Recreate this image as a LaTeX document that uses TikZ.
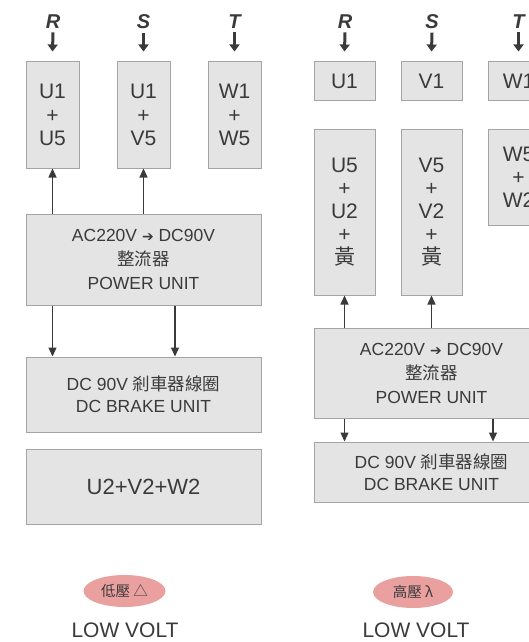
\documentclass[tikz,border=0pt]{standalone}
\usepackage{fontspec}
\setmainfont{Liberation Sans}
\newfontfamily\cjk{Noto Sans CJK TC}
\newfontfamily\symfont{DejaVu Sans}
\usetikzlibrary{arrows.meta,shapes.geometric}
\definecolor{boxfill}{HTML}{E4E4E4}
\definecolor{boxline}{HTML}{A4A4A4}
\definecolor{ink}{HTML}{3A3A3A}
\definecolor{pinkfill}{HTML}{EBA0A0}
\begin{document}
\begin{tikzpicture}[x=1pt, y=-1pt,
  box/.style={draw=boxline, fill=boxfill, line width=1pt, text=ink, align=center, inner sep=0pt},
  term/.style={box, minimum width=53pt, font=\fontsize{21}{23.5}\selectfont},
  unit/.style={box, minimum width=235pt, font=\fontsize{17.5}{24}\selectfont},
  phase/.style={text=ink, font=\fontsize{20}{20}\selectfont\bfseries\itshape},
  feed/.style={line width=3pt, ink, -{Triangle[length=7pt,width=10pt]}},
  wire/.style={line width=1.2pt, ink, -{Triangle[length=9pt,width=8pt]}},
  volt/.style={ellipse, fill=pinkfill, minimum width=82pt, minimum height=32pt, inner sep=0pt, text=ink, font=\cjk\fontsize{14.5}{14.5}\selectfont},
  mode/.style={text=ink, font=\fontsize{21}{21}\selectfont}]
\clip (0,0) rectangle (529,642);

% low voltage (delta)
\node[phase] (rL) at (53,22) {R};
\node[phase] (sL) at (143.5,22) {S};
\node[phase] (tL) at (234.5,22) {T};
\node[term, minimum height=106pt] (uA) at (52.5,115) {U1\\+\\U5};
\node[term, minimum height=106pt] (uB) at (143.5,115) {U1\\+\\V5};
\node[term, minimum height=106pt] (uC) at (234.5,115) {W1\\+\\W5};
\node[unit, minimum height=91pt] (pwrL) at (143.5,259.5) {AC220V {\symfont\fontsize{14}{14}\selectfont ➔} DC90V\\{\cjk 整流器}\\POWER UNIT};
\node[unit, minimum height=75pt, font=\fontsize{17.5}{22}\selectfont] (brkL) at (143.5,394.5) {DC 90V {\cjk 剎車器線圈}\\DC BRAKE UNIT};
\node[unit, minimum height=75pt, font=\fontsize{22}{22}\selectfont] (sumL) at (143.5,486.5) {U2+V2+W2};
\node[volt] (lowL) at (124.5,591) {低壓 △};
\node[mode] (voltL) at (125,630) {LOW VOLT};

\draw[feed] (rL.south) -- ([yshift=10pt]uA.north);
\draw[feed] (sL.south) -- ([yshift=10pt]uB.north);
\draw[feed] (tL.south) -- ([yshift=10pt]uC.north);
\draw[wire] (pwrL.north -| uA) -- (uA.south);
\draw[wire] (pwrL.north -| uB) -- (uB.south);
\draw[wire] (pwrL.south -| uA) -- (brkL.north -| uA);
\draw[wire] ([xshift=31.5pt]pwrL.south) -- ([xshift=31.5pt]brkL.north);

% high voltage (star)
\node[phase] (rR) at (345,22) {R};
\node[phase] (sR) at (432,22) {S};
\node[phase] (tR) at (518.5,22) {T};
\node[term, minimum width=61pt, minimum height=38pt] (uD) at (344.5,81) {U1};
\node[term, minimum width=61pt, minimum height=38pt] (uE) at (431.5,81) {V1};
\node[term, minimum width=61pt, minimum height=38pt] (uF) at (518.5,81) {W1};
\node[term, minimum width=61pt, minimum height=166pt, font=\fontsize{21}{23}\selectfont] (uG) at (344.5,212) {U5\\+\\U2\\+\\{\cjk 黃}};
\node[term, minimum width=61pt, minimum height=166pt, font=\fontsize{21}{23}\selectfont] (uH) at (431.5,212) {V5\\+\\V2\\+\\{\cjk 黃}};
\node[term, minimum width=61pt, minimum height=96pt, font=\fontsize{21}{23}\selectfont] (uI) at (518.5,177) {W5\\+\\W2};
\node[unit, minimum height=90pt] (pwrR) at (431.5,373) {AC220V {\symfont\fontsize{14}{14}\selectfont ➔} DC90V\\{\cjk 整流器}\\POWER UNIT};
\node[unit, minimum height=60pt, font=\fontsize{17.5}{22}\selectfont] (brkR) at (431.5,472) {DC 90V {\cjk 剎車器線圈}\\DC BRAKE UNIT};
\node[volt, minimum width=80pt] (highR) at (413,592) {高壓 λ};
\node[mode] (voltR) at (416,630) {LOW VOLT};

\draw[feed] (rR.south) -- ([yshift=10pt]uD.north);
\draw[feed] (sR.south) -- ([yshift=10pt]uE.north);
\draw[feed] (tR.south) -- ([yshift=10pt]uF.north);
\draw[wire] (pwrR.north -| uG) -- (uG.south);
\draw[wire] (pwrR.north -| uH) -- (uH.south);
\draw[wire] (pwrR.south -| uG) -- (brkR.north -| uG);
\draw[wire] ([xshift=61.5pt]pwrR.south) -- ([xshift=61.5pt]brkR.north);
\end{tikzpicture}
\end{document}
